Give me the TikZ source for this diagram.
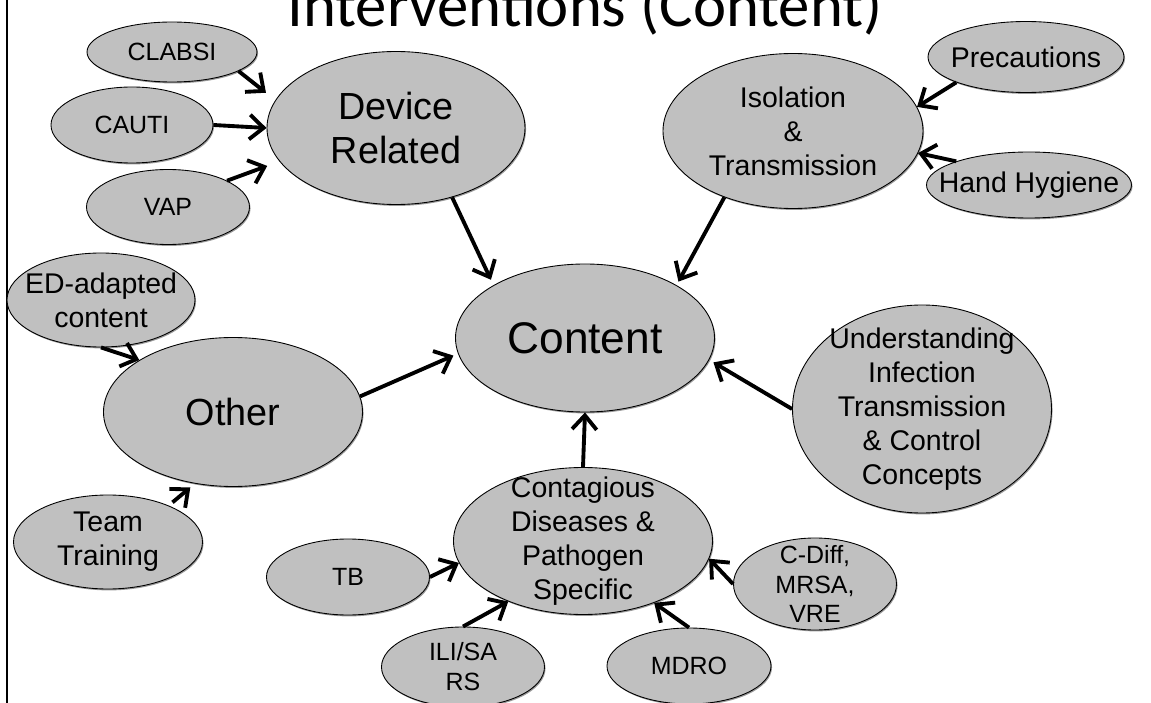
\documentclass[tikz,border=0pt]{standalone}
\usepackage{fontspec}
\setmainfont{Liberation Sans}
\newfontfamily\titlefont{Carlito}
\usepackage{xcolor}
\usepackage{tikz}
\usetikzlibrary{positioning,shapes.geometric,arrows.meta,shadows}

\definecolor{bubblegray}{RGB}{192,192,192}

\begin{document}
\begin{tikzpicture}[
  bubble/.style={ellipse, draw, line width=0.5pt, fill=bubblegray, inner sep=-1cm, align=center,
    drop shadow={shadow xshift=0.6pt, shadow yshift=-0.8pt, fill=black!40, opacity=1}},
  leaf/.style={bubble, font=\fontsize{14.2}{17}\selectfont},
  topic/.style={bubble, font=\fontsize{16.2}{19.3}\selectfont},
  hub/.style={bubble, font=\fontsize{21.5}{25.5}\selectfont},
  link/.style={-{Straight Barb[length=8pt,width=14pt]}, line width=2.2pt}
]
\useasboundingbox (0,0) rectangle (23.02,-14.06);

% Frame line and title
\draw[line width=1.1pt] (0.14,0) -- (0.14,-14.06);
\node[font=\titlefont\fontsize{35.7}{40}\selectfont, anchor=base] (title) at (11.7,-0.54) {Interventions (Content)};

% Central node
\node[hub, font=\fontsize{25.2}{30}\selectfont, minimum width=5.18cm, minimum height=2.96cm] (content) at (11.7,-6.76) {Content};

% Device related
\node[hub, minimum width=5.16cm, minimum height=3.06cm] (device) at (7.92,-2.56) {Device\\Related};
\node[leaf, minimum width=3.4cm, minimum height=1.2cm] (clabsi) at (3.44,-1.04) {CLABSI};
\node[leaf, minimum width=3.24cm, minimum height=1.52cm] (cauti) at (2.64,-2.5) {CAUTI};
\node[leaf, minimum width=3.26cm, minimum height=1.5cm] (vap) at (3.36,-4.14) {VAP};

% Isolation & transmission
\node[topic, minimum width=5.2cm, minimum height=3.1cm] (isolation) at (15.86,-2.62) {Isolation\\\&\\Transmission};
\node[topic, minimum width=3.92cm, minimum height=1.42cm] (precautions) at (20.52,-1.14) {Precautions};
\node[topic, minimum width=4.1cm, minimum height=1.32cm] (hygiene) at (20.58,-3.7) {Hand Hygiene};

% Understanding
\node[topic, minimum width=5.18cm, minimum height=4.16cm] (understanding) at (18.44,-8.18) {Understanding\\Infection\\Transmission\\\& Control\\Concepts};

% Other
\node[hub, minimum width=5.18cm, minimum height=2.98cm] (other) at (4.66,-8.24) {Other};
\node[topic, minimum width=3.76cm, minimum height=1.88cm] (edadapted) at (2.02,-6.0) {ED-adapted\\content};
\node[topic, minimum width=3.78cm, minimum height=1.88cm] (team) at (2.16,-10.84) {Team\\Training};

% Contagious diseases
\node[topic, minimum width=5.18cm, minimum height=2.94cm] (contagious) at (11.66,-10.82) {Contagious\\Diseases \&\\Pathogen\\Specific};
\node[leaf, minimum width=3.26cm, minimum height=1.52cm] (tb) at (6.96,-11.54) {TB};
\node[leaf, minimum width=3.26cm, minimum height=1.6cm] (ilisars) at (9.26,-13.34) {ILI/SA\\RS};
\node[leaf, minimum width=3.28cm, minimum height=1.52cm] (mdro) at (13.78,-13.32) {MDRO};
\node[leaf, minimum width=3.26cm, minimum height=1.84cm] (cdiff) at (16.3,-11.68) {C-Diff,\\MRSA,\\VRE};

% Arrows into the subtopics
\draw[link, shorten >=6.8pt] (clabsi.-16) -- (device.167);
\draw[link] (cauti.east) -- (device.west);
\draw[link, shorten >=7.4pt] (vap.24) -- (device.196);
\draw[link] (precautions.200) -- (isolation.11);
\draw[link] (hygiene.162) -- (isolation.-10);
\draw[link] (edadapted.south) -- (other.151);
\draw[link, shorten <=2.8pt, shorten >=3.4pt] (team.31) -- (other.242);
\draw[link] (tb.east) -- (contagious.190);
\draw[link] (ilisars.north) -- (contagious.219);
\draw[link] (mdro.north) -- (contagious.-41);
\draw[link] (cdiff.west) -- (contagious.-8);

% Arrows into the centre
\draw[link, shorten >=3.4pt] (device.-51) -- (content.150);
\draw[link, shorten >=2.3pt] (isolation.224) -- (content.30);
\draw[link, shorten >=2.8pt] (other.7) -- (content.187);
\draw[link, shorten >=2.8pt] (understanding.west) -- (content.-10);
\draw[link] (contagious.north) -- (content.south);

\end{tikzpicture}
\end{document}
